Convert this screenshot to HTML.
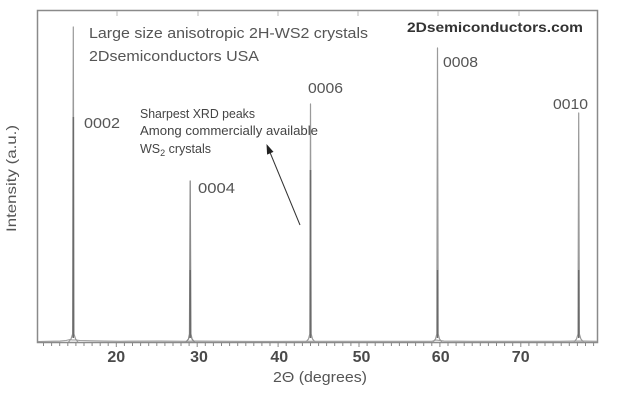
<!DOCTYPE html>
<html><head><meta charset="utf-8"><style>
html,body{margin:0;padding:0;background:#fff;}
svg{display:block;}
text{font-family:"Liberation Sans",Arial,sans-serif;}
</style></head><body>
<svg width="617" height="401" viewBox="0 0 617 401" xmlns="http://www.w3.org/2000/svg">
<rect x="0" y="0" width="617" height="401" fill="#fff"/>
<!-- frame -->
<rect x="37.5" y="10.5" width="560" height="332" fill="none" stroke="#8a8a8a" stroke-width="1.5"/>
<!-- top ticks -->
<g stroke="#bbb" stroke-width="1">
<line x1="117" y1="11" x2="117" y2="16"/><line x1="198" y1="11" x2="198" y2="16"/>
<line x1="278" y1="11" x2="278" y2="16"/><line x1="358" y1="11" x2="358" y2="16"/>
<line x1="438" y1="11" x2="438" y2="16"/><line x1="519" y1="11" x2="519" y2="16"/>
</g>
<!-- bottom minor ticks -->
<g stroke="#888" stroke-width="1" id="ticks">
<line x1="43.5" y1="342" x2="43.5" y2="346"/><line x1="51.6" y1="342" x2="51.6" y2="346"/><line x1="59.7" y1="342" x2="59.7" y2="346"/><line x1="67.8" y1="342" x2="67.8" y2="346"/><line x1="75.9" y1="342" x2="75.9" y2="346"/><line x1="84.0" y1="342" x2="84.0" y2="346"/><line x1="92.1" y1="342" x2="92.1" y2="346"/><line x1="100.2" y1="342" x2="100.2" y2="346"/><line x1="108.2" y1="342" x2="108.2" y2="346"/><line x1="116.3" y1="342" x2="116.3" y2="347"/><line x1="124.4" y1="342" x2="124.4" y2="346"/><line x1="132.5" y1="342" x2="132.5" y2="346"/><line x1="140.6" y1="342" x2="140.6" y2="346"/><line x1="148.7" y1="342" x2="148.7" y2="346"/><line x1="156.8" y1="342" x2="156.8" y2="346"/><line x1="164.9" y1="342" x2="164.9" y2="346"/><line x1="173.0" y1="342" x2="173.0" y2="346"/><line x1="181.0" y1="342" x2="181.0" y2="346"/><line x1="189.1" y1="342" x2="189.1" y2="346"/><line x1="197.2" y1="342" x2="197.2" y2="347"/><line x1="205.3" y1="342" x2="205.3" y2="346"/><line x1="213.4" y1="342" x2="213.4" y2="346"/><line x1="221.5" y1="342" x2="221.5" y2="346"/><line x1="229.6" y1="342" x2="229.6" y2="346"/><line x1="237.7" y1="342" x2="237.7" y2="346"/><line x1="245.8" y1="342" x2="245.8" y2="346"/><line x1="253.8" y1="342" x2="253.8" y2="346"/><line x1="261.9" y1="342" x2="261.9" y2="346"/><line x1="270.0" y1="342" x2="270.0" y2="346"/><line x1="278.1" y1="342" x2="278.1" y2="347"/><line x1="286.2" y1="342" x2="286.2" y2="346"/><line x1="294.3" y1="342" x2="294.3" y2="346"/><line x1="302.4" y1="342" x2="302.4" y2="346"/><line x1="310.5" y1="342" x2="310.5" y2="346"/><line x1="318.6" y1="342" x2="318.6" y2="346"/><line x1="326.6" y1="342" x2="326.6" y2="346"/><line x1="334.7" y1="342" x2="334.7" y2="346"/><line x1="342.8" y1="342" x2="342.8" y2="346"/><line x1="350.9" y1="342" x2="350.9" y2="346"/><line x1="359.0" y1="342" x2="359.0" y2="347"/><line x1="367.1" y1="342" x2="367.1" y2="346"/><line x1="375.2" y1="342" x2="375.2" y2="346"/><line x1="383.3" y1="342" x2="383.3" y2="346"/><line x1="391.4" y1="342" x2="391.4" y2="346"/><line x1="399.4" y1="342" x2="399.4" y2="346"/><line x1="407.5" y1="342" x2="407.5" y2="346"/><line x1="415.6" y1="342" x2="415.6" y2="346"/><line x1="423.7" y1="342" x2="423.7" y2="346"/><line x1="431.8" y1="342" x2="431.8" y2="346"/><line x1="439.9" y1="342" x2="439.9" y2="347"/><line x1="448.0" y1="342" x2="448.0" y2="346"/><line x1="456.1" y1="342" x2="456.1" y2="346"/><line x1="464.2" y1="342" x2="464.2" y2="346"/><line x1="472.2" y1="342" x2="472.2" y2="346"/><line x1="480.3" y1="342" x2="480.3" y2="346"/><line x1="488.4" y1="342" x2="488.4" y2="346"/><line x1="496.5" y1="342" x2="496.5" y2="346"/><line x1="504.6" y1="342" x2="504.6" y2="346"/><line x1="512.7" y1="342" x2="512.7" y2="346"/><line x1="520.8" y1="342" x2="520.8" y2="347"/><line x1="528.9" y1="342" x2="528.9" y2="346"/><line x1="537.0" y1="342" x2="537.0" y2="346"/><line x1="545.0" y1="342" x2="545.0" y2="346"/><line x1="553.1" y1="342" x2="553.1" y2="346"/><line x1="561.2" y1="342" x2="561.2" y2="346"/><line x1="569.3" y1="342" x2="569.3" y2="346"/><line x1="577.4" y1="342" x2="577.4" y2="346"/><line x1="585.5" y1="342" x2="585.5" y2="346"/><line x1="593.6" y1="342" x2="593.6" y2="346"/>
</g>
<!-- baseline noise -->
<polyline fill="none" stroke="#999" stroke-width="1" points="38,341.5 60,341 66,340.5 70,339.5 72,340 76,340 80,340.5 90,340.8 120,341.2 160,341 186,341.3 194,341 230,341.3 270,341.4 306,341.2 314,341.2 350,341.3 400,341.3 432,341.2 436,340 440,340.5 444,341 470,341.2 520,341.3 560,341.3 574,341 583,341 597,341.3"/>
<!-- peaks -->
<g fill="none" stroke-linejoin="round">
<path d="M68.5,342 L71,339 L72.6,334 L73.3,27 L74,334 L75.6,339 L78,342" stroke="#9a9a9a" stroke-width="1.2"/>
<line x1="73.3" y1="117" x2="73.3" y2="338" stroke="#6a6a6a" stroke-width="1.6"/>
<path d="M186,342 L188.5,339 L189.5,334 L190.2,181 L190.9,334 L192,339 L194.5,342" stroke="#8a8a8a" stroke-width="1.3"/>
<line x1="190.2" y1="270" x2="190.2" y2="338" stroke="#666" stroke-width="1.4"/>
<path d="M306,342 L308.5,339 L309.8,334 L310.5,104 L311.2,334 L312.5,339 L315,342" stroke="#9a9a9a" stroke-width="1.2"/>
<line x1="310.5" y1="170" x2="310.5" y2="338" stroke="#6a6a6a" stroke-width="1.6"/>
<path d="M433,342 L435.5,339 L436.8,334 L437.5,48 L438.2,334 L439.5,339 L442,342" stroke="#9a9a9a" stroke-width="1.2"/>
<line x1="437.5" y1="270" x2="437.5" y2="338" stroke="#6a6a6a" stroke-width="1.5"/>
<path d="M574,342 L576.5,339 L578,334 L578.7,113 L579.4,334 L580.9,339 L583.5,342" stroke="#9a9a9a" stroke-width="1.2"/>
<line x1="578.7" y1="270" x2="578.7" y2="338" stroke="#6a6a6a" stroke-width="1.5"/>
</g>
<!-- titles -->
<text x="89" y="38" font-size="15" fill="#555" textLength="279" lengthAdjust="spacingAndGlyphs">Large size anisotropic 2H-WS2 crystals</text>
<text x="89" y="61" font-size="15" fill="#555" textLength="170" lengthAdjust="spacingAndGlyphs">2Dsemiconductors USA</text>
<text x="407" y="32" font-size="14" font-weight="bold" fill="#333" textLength="176" lengthAdjust="spacingAndGlyphs">2Dsemiconductors.com</text>
<!-- peak labels -->
<g font-size="15" fill="#555">
<text x="84" y="128" textLength="36" lengthAdjust="spacingAndGlyphs">0002</text>
<text x="198" y="193" textLength="37" lengthAdjust="spacingAndGlyphs">0004</text>
<text x="308" y="93" textLength="35" lengthAdjust="spacingAndGlyphs">0006</text>
<text x="443" y="67" textLength="35" lengthAdjust="spacingAndGlyphs">0008</text>
<text x="553" y="109" textLength="35" lengthAdjust="spacingAndGlyphs">0010</text>
</g>
<!-- annotation -->
<g font-size="12.5" fill="#444">
<text x="140" y="118" textLength="115" lengthAdjust="spacingAndGlyphs">Sharpest XRD peaks</text>
<text x="140" y="135" textLength="178" lengthAdjust="spacingAndGlyphs">Among commercially available</text>
<text x="140" y="153">WS<tspan font-size="9" dy="3">2</tspan><tspan dy="-3"> crystals</tspan></text>
</g>
<line x1="300" y1="225" x2="269" y2="150" stroke="#333" stroke-width="1"/>
<polygon points="266.5,144 273.5,151.9 267.1,154.6" fill="#222"/>
<!-- x tick labels -->
<g font-size="16" font-weight="bold" fill="#4a4a4a" text-anchor="middle">
<text x="116.3" y="362">20</text>
<text x="199" y="362">30</text>
<text x="279.3" y="362">40</text>
<text x="361.5" y="362">50</text>
<text x="440.7" y="362">60</text>
<text x="520.7" y="362">70</text>
</g>
<text x="273" y="382" font-size="15" fill="#555" textLength="94" lengthAdjust="spacingAndGlyphs">2Θ (degrees)</text>
<text transform="translate(16,232) rotate(-90)" x="0" y="0" font-size="14" fill="#555" textLength="107" lengthAdjust="spacingAndGlyphs">Intensity (a.u.)</text>
</svg>
</body></html>
